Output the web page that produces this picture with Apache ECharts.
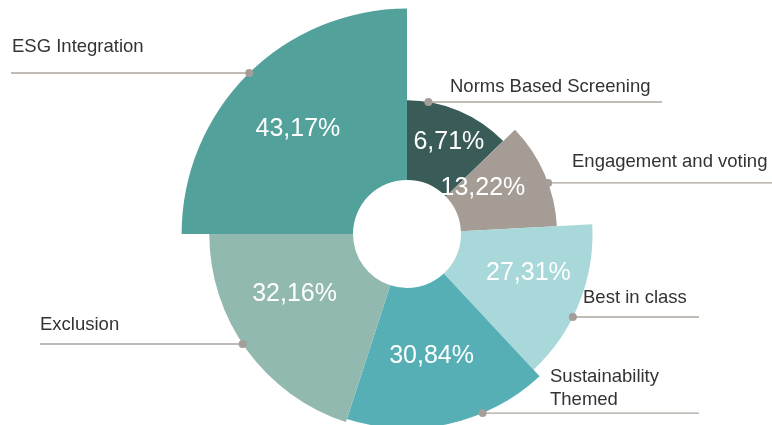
<!DOCTYPE html>
<html>
<head>
<meta charset="utf-8">
<script src="https://cdn.jsdelivr.net/npm/echarts@6/dist/echarts.min.js"></script>
<style>html,body{margin:0;padding:0;background:#fff}#c{width:772px;height:425px}</style>
</head>
<body>
<div id="c"></div>
<script>
// ---- data (clockwise from 12 o'clock) ----
const categories = ['Norms Based Screening', 'Engagement and voting', 'Best in class', 'Sustainability Themed', 'Exclusion', 'ESG Integration'];
const labelText = ['Norms Based Screening', 'Engagement and voting', 'Best in class', 'Sustainability\nThemed', 'Exclusion', 'ESG Integration'];
const shares = [6.71, 13.22, 27.31, 30.84, 32.16, 43.17];
const valueLabels = ['6,71%', '13,22%', '27,31%', '30,84%', '32,16%', '43,17%'];

// ---- layout / style ----
const colors = ['#3a5c59', '#a59c96', '#a9d8da', '#55afb4', '#92b9af', '#53a19b'];
const sweep = [46, 41, 50, 61, 72, 90];              // angular span of each sector (deg)
const innerLabel = [[24.5, 0.59], [59, 0.36], [108, 0.56], [168.6, 0.5], [242, 0.51], [314, 0.57]];
const dotAngle = [9.2, 70.1, 116.6, 157.1, 236.2, 315.6];
const lineEndX = [662, 772, 699, 699, 40, 11];
const textX = [450, 572, 583, 550, 40, 12];
const textDy = [-15.5, -21.5, -19.5, -25, -19.5, -26.5];
const R_MIN = -25, R_MAX = 45;

const starts = [];
sweep.reduce((acc, s, i) => { starts[i] = acc; return acc + s; }, 0);

function renderItem(params, api) {
  const i = params.dataIndex;
  const cs = params.coordSys;
  const cx = cs.cx, cy = cs.cy;
  const v = api.value(0);
  const a0 = starts[i], a1 = starts[i] + sweep[i];
  const dist = p => Math.hypot(p[0] - cx, p[1] - cy);
  const ang = (rv, deg) => { const p = api.coord([rv, deg]); return Math.atan2(p[1] - cy, p[0] - cx); };
  const r = dist(api.coord([v, a0]));
  const r0 = dist(api.coord([R_MIN, a0]));
  let s = ang(v, a0), e = ang(v, a1);
  while (e <= s) e += Math.PI * 2;
  const lb = innerLabel[i];
  const lp = api.coord([R_MIN + lb[1] * (v - R_MIN), lb[0]]);
  const d = api.coord([v, dotAngle[i]]);
  return {
    type: 'group',
    children: [
      { type: 'sector', shape: { cx: cx, cy: cy, r0: r0, r: r, startAngle: s, endAngle: e, clockwise: true },
        style: { fill: colors[i] } },
      { type: 'line', z2: 5, shape: { x1: d[0], y1: d[1], x2: lineEndX[i], y2: d[1] },
        style: { stroke: '#aca49e', lineWidth: 1.4 } },
      { type: 'circle', z2: 6, shape: { cx: d[0], cy: d[1], r: 4 }, style: { fill: '#a59d97' } },
      { type: 'text', z2: 10, x: lp[0], y: lp[1],
        style: { text: valueLabels[i], fill: '#ffffff', font: '25px "Liberation Sans", Arial, sans-serif',
                 align: 'center', verticalAlign: 'middle' } },
      { type: 'text', z2: 10, x: textX[i], y: d[1] + textDy[i],
        style: { text: labelText[i], fill: '#333333', font: '18.5px "Liberation Sans", Arial, sans-serif',
                 align: 'left', verticalAlign: 'middle', lineHeight: 23 } }
    ]
  };
}

const chart = echarts.init(document.getElementById('c'), null, { renderer: 'canvas' });
chart.setOption({
  animation: false,
  backgroundColor: '#ffffff',
  polar: { center: [407, 234], radius: [54, 230] },
  angleAxis: { type: 'value', min: 0, max: 360, startAngle: 90, clockwise: true, show: false },
  radiusAxis: { type: 'value', min: R_MIN, max: R_MAX, show: false },
  series: [{
    type: 'custom',
    coordinateSystem: 'polar',
    renderItem: renderItem,
    data: shares.map((v, i) => ({ name: categories[i], value: [v, starts[i] + sweep[i] / 2] }))
  }]
});
</script>
</body>
</html>
